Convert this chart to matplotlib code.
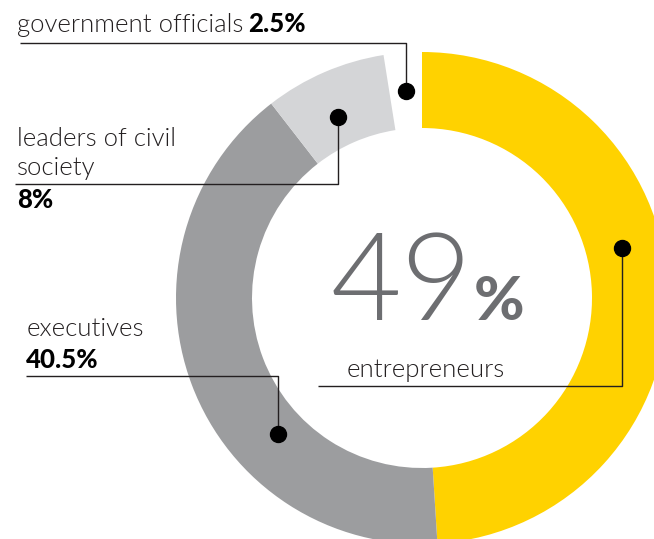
import matplotlib
matplotlib.use('Agg')
import matplotlib.pyplot as plt
import numpy as np

# ---- data ----
categories = ['entrepreneurs', 'executives', 'leaders of civil society', 'government officials']
shares = [49, 40.5, 8, 2.5]
share_labels = ['49%', '40.5%', '8%', '2.5%']
colors = ['#FFD200', '#9C9D9F', '#D4D5D7', 'none']

W, H = 654, 539
fig = plt.figure(figsize=(W / 100, H / 100), dpi=100)
ax = fig.add_axes([0, 0, 1, 1])

cx, cy = 422, 298      # donut centre (pixels, y down)
R, r = 246, 170        # outer / inner radius

ax.pie(shares, colors=colors, startangle=270, counterclock=True,
       center=(cx, cy), radius=R,
       wedgeprops=dict(width=R - r, linewidth=0), frame=True)
ax.set_xlim(0, W)
ax.set_ylim(H, 0)
ax.set_aspect('auto')
ax.axis('off')

LIGHT = dict(family=['Lato', 'DejaVu Sans'], fontweight=300, color='#231F20')
BOLD = dict(family=['Lato', 'DejaVu Sans'], fontweight='black', color='#000000')
FS = 18.5

renderer = fig.canvas.get_renderer()


def right_edge(t):
    bb = t.get_window_extent(renderer)
    return ax.transData.inverted().transform((bb.x1, bb.y0))[0]


def pair(x, y, light, bold, fs=FS, gap=5):
    t = ax.text(x, y, light, fontsize=fs, va='baseline', ha='left', **LIGHT)
    xe = right_edge(t) if light else x
    ax.text(xe + gap, y, bold, fontsize=fs, va='baseline', ha='left', **BOLD)


# callout leader lines: list of points, dot at last point
def leader(pts):
    xs, ys = zip(*pts)
    ax.plot(xs, ys, color='#231F20', lw=1.0, solid_capstyle='butt', zorder=3)
    ax.plot(xs[-1], ys[-1], 'o', color='#000000', ms=11.5, zorder=4)


# government officials
pair(17, 32, 'government officials', share_labels[3])
leader([(20, 43), (406, 43), (406, 91)])

# leaders of civil society
ax.text(17, 146, 'leaders of civil', fontsize=FS, va='baseline', **LIGHT)
ax.text(17, 175, 'society', fontsize=FS, va='baseline', **LIGHT)
ax.text(17, 208, share_labels[2], fontsize=FS, va='baseline', **BOLD)
leader([(15, 184), (338, 184), (338, 117)])

# executives
ax.text(27, 336, categories[1], fontsize=FS, va='baseline', **LIGHT)
ax.text(26, 368, share_labels[1], fontsize=FS, va='baseline', **BOLD)
leader([(26, 376), (278, 376), (278, 434)])

# entrepreneurs
ax.text(347, 377, categories[0], fontsize=FS, va='baseline', **LIGHT)
leader([(318, 386), (622, 386), (622, 248)])

# big centre number
big = ax.text(331, 320, share_labels[0][:-1], fontsize=88, va='baseline', ha='left',
              family=['Lato', 'DejaVu Sans'], fontweight=300, color='#6D6E71')
xe = right_edge(big)
ax.text(xe + 0.5, 320, '%', fontsize=44, va='baseline', ha='left',
        family=['Lato', 'DejaVu Sans'], fontweight='black', color='#6D6E71')

fig.savefig('out.png', dpi=100)
